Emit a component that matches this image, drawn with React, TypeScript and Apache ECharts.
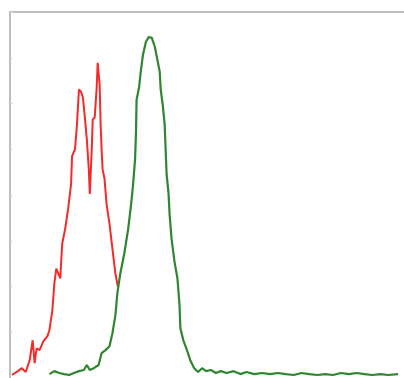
import React, { useEffect, useRef } from "react";
import * as echarts from "echarts";

// Channel (x) and count (y) pairs
const redX = [2, 8, 12, 16, 20, 23, 25, 27, 30, 34, 38, 40, 43, 45, 47, 49, 51, 53, 56, 59, 62, 63, 66, 68, 70, 72, 74, 76, 78, 80, 81, 83, 84, 86, 88, 89, 91, 92, 93, 94, 96, 98, 101, 104, 107, 109.5];
const redY = [1.3, 3.0, 4.3, 2.6, 7.8, 16.5, 6.5, 13.0, 12.2, 16.1, 18.3, 20.9, 29.6, 41.3, 47.8, 45.7, 43.5, 58.7, 65.2, 73.9, 84.8, 97.0, 100, 110.9, 126.1, 125.2, 122.6, 113.9, 104.3, 91.3, 80.4, 100, 113, 113.9, 127, 137.8, 128.3, 110.9, 100, 91.3, 87, 76.1, 67.4, 56.5, 45.7, 40];

const greenX = [40, 45, 50, 55, 60, 65, 70, 75, 78, 81, 85, 90, 93, 97, 101, 104, 107, 109, 112, 116, 120, 123, 125, 127, 128, 128.5, 131, 133, 135, 138, 141, 144, 147, 150, 152, 153, 155, 157, 158, 159, 161, 162, 164, 167, 170, 172, 173, 176, 179, 183, 187, 191, 195, 199, 204, 209, 214, 220, 227, 234, 240, 248, 256, 264, 272, 280, 288, 296, 304, 312, 320, 328, 336, 344, 352, 360, 368, 376, 384, 394];
const greenY = [1.7, 3.0, 2.2, 1.7, 1.3, 2.2, 3.0, 3.5, 5.7, 3.5, 4.3, 5.7, 10.9, 12.2, 13.9, 19.6, 27.4, 37.0, 45.7, 54.3, 65.2, 76.1, 84.8, 95.7, 108.7, 121.7, 127, 134.8, 141.3, 147, 149.1, 148.7, 144.8, 138.3, 133.9, 126.1, 119.6, 110.9, 100, 89.1, 80.4, 71.7, 60.9, 50.9, 43.5, 32.6, 21.7, 16.5, 13.0, 7.8, 4.3, 2.6, 4.3, 3.0, 3.5, 2.2, 3.0, 2.2, 3.0, 1.7, 2.6, 1.7, 2.2, 1.7, 2.2, 1.7, 1.3, 2.2, 1.7, 1.3, 1.7, 1.3, 2.2, 1.7, 2.2, 1.7, 1.3, 1.7, 1.3, 1.7];

const yTicks = [0, 20, 40, 60, 80, 100, 120, 140, 160];

export default function App() {
  const ref = useRef<HTMLDivElement>(null);
  useEffect(() => {
    if (!ref.current) return;
    const chart = echarts.init(ref.current, null, { renderer: "svg" });
    const red = redX.map((x, i) => [x, redY[i]]);
    const green = greenX.map((x, i) => [x, greenY[i]]);
    chart.setOption({
      animation: false,
      backgroundColor: "#ffffff",
      grid: { left: 10, top: 12, right: -6, bottom: -2 },
      xAxis: {
        type: "value",
        position: "top",
        min: 0,
        max: 400,
        axisLine: { show: true, onZero: false, lineStyle: { color: "#a8a8a8", width: 1.5 } },
        axisTick: { show: false },
        axisLabel: { show: false },
        splitLine: { show: false },
      },
      yAxis: {
        type: "value",
        min: yTicks[0],
        max: yTicks[yTicks.length - 1],
        interval: 20,
        axisLine: { show: true, onZero: false, lineStyle: { color: "#a8a8a8", width: 1.5 } },
        axisTick: { show: true, inside: true, length: 3, lineStyle: { color: "#dddddd" } },
        axisLabel: { show: false },
        splitLine: { show: false },
      },
      series: [
        {
          type: "line",
          data: red,
          symbol: "none",
          lineStyle: { color: "#f52a2a", width: 2 },
          z: 2,
        },
        {
          type: "line",
          data: green,
          symbol: "none",
          lineStyle: { color: "#2e862e", width: 2.2 },
          z: 3,
        },
      ],
    });
    return () => chart.dispose();
  }, []);
  return <div ref={ref} style={{ width: 404, height: 378, position: "absolute", left: 0, top: 0 }} />;
}
